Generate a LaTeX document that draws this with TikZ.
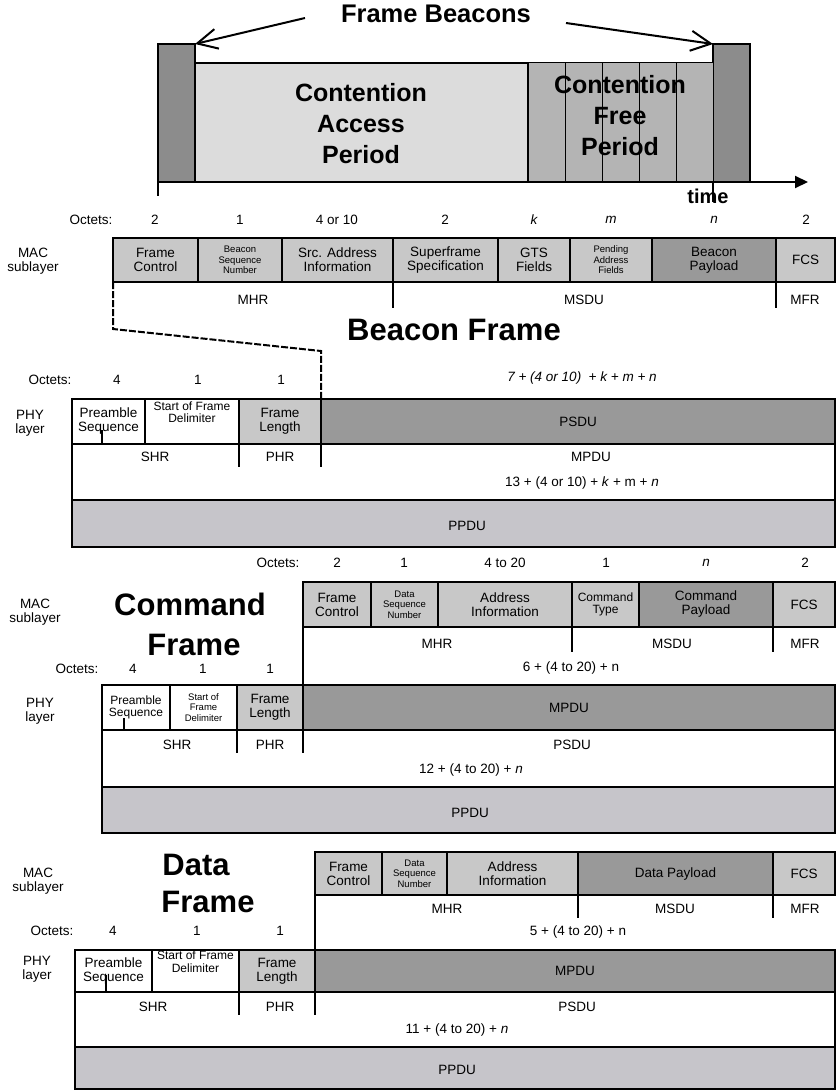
\documentclass[tikz,border=0pt]{standalone}
\usepackage{fontspec}
\setmainfont{Liberation Sans}
\usetikzlibrary{arrows.meta}
\definecolor{cellg}{HTML}{C8C8C8}
\definecolor{darkg}{HTML}{999999}
\definecolor{ppdug}{HTML}{C6C5CA}
\definecolor{bcng}{HTML}{8C8C8C}
\definecolor{capg}{HTML}{DCDCDC}
\definecolor{cfpg}{HTML}{B4B4B4}
\newcommand\fsm{\fontsize{13.5}{14}\selectfont}
\newcommand\fmd{\fontsize{12}{12.5}\selectfont}
\newcommand\ftn{\fontsize{9.5}{10.5}\selectfont}
\newcommand\fttl{\fontsize{31}{36}\selectfont\bfseries}
\newcommand\fbig{\fontsize{25}{31}\selectfont\bfseries}
\newcommand\bx[7]{\node[#1,anchor=north west,minimum width={(#5)-(#3)},minimum height={(#6)-(#4)}] (#2) at (#3,#4) {#7};}
\tikzset{
  box/.style={draw=black, line width=1.3pt, inner sep=0pt, outer sep=0pt, align=center, font=\fsm},
  mac/.style={box, fill=cellg},
  pay/.style={box, fill=darkg},
  wht/.style={box, fill=white},
  ppdu/.style={box, fill=ppdug},
  bcn/.style={box, fill=bcng, line width=1.5pt},
  capst/.style={box, fill=capg, line width=1.5pt},
  cfpst/.style={box, fill=cfpg, line width=1pt},
  lbl/.style={inner sep=0pt, font=\fsm, align=center},
  tlbl/.style={inner sep=0pt, font=\fttl, anchor=base},
  big/.style={inner sep=0pt, font=\fbig, align=center},
  thk/.style={line width=2.6pt},
  thn/.style={line width=1.3pt},
  fbarrow/.style={line width=2pt, -{Straight Barb[length=20pt,width=20pt,line width=2pt]}},
  axis/.style={line width=2pt, -{Triangle[length=13pt,width=12pt]}},
  zoomline/.style={line width=2pt, dash pattern=on 7pt off 2pt}
}
\begin{document}
\begin{tikzpicture}[x=1pt,y=-1pt]
\useasboundingbox (0,0) rectangle (837,1091);
% ---------------- superframe ----------------
\bx{bcn}{bL}{158}{44}{195}{182}{}
\bx{bcn}{bR}{713}{44}{750}{182}{}
\bx{capst}{cap}{195}{63}{528}{182}{}
\bx{cfpst}{s1}{528}{63}{565}{182}{}
\bx{cfpst}{s2}{565}{63}{602}{182}{}
\bx{cfpst}{s3}{602}{63}{639}{182}{}
\bx{cfpst}{s4}{639}{63}{676}{182}{}
\bx{cfpst}{s5}{676}{63}{713}{182}{}
\node[big] (capt) at (361,124) {Contention\\Access\\Period};
\node[big] (cfpt) at (620,116) {Contention\\Free\\Period};
\node[tlbl, font=\fontsize{25.5}{30}\selectfont\bfseries] (fb) at (436,23) {Frame Beacons};
\coordinate (fbL) at (305,18);
\coordinate (fbR) at (566,23);
\draw[fbarrow] (fbL) -- (bL.north east);
\draw[fbarrow] (fbR) -- (bR.north west);
\coordinate (t0) at (158,182);
\coordinate (t1) at (808,182);
\draw[axis] (t0) -- (t1);
\draw[line width=1.5pt] (bL.south west) -- ++(0,14);
\draw[line width=1.5pt] (bR.south west) -- ++(0,20);
\node[inner sep=0pt, font=\fontsize{20}{20}\selectfont\bfseries] (time) at (708,196) {time};
% ---------------- beacon frame: MAC ----------------
\node[lbl] (bmacl) at (33,261) {MAC\\sublayer};
\node[lbl] (bo0) at (91,220) {Octets:};
\node[lbl] (bo1) at (155,220) {2};
\node[lbl] (bo2) at (240,220) {1};
\node[lbl] (bo3) at (337,220) {4 or 10};
\node[lbl] (bo4) at (445,220) {2};
\node[lbl] (bo5) at (534,220) {\itshape k};
\node[lbl] (bo6) at (611,220) {\itshape m};
\node[lbl] (bo7) at (714,220) {\itshape n};
\node[lbl] (bo8) at (806,220) {2};
\bx{mac}{bfc}{113}{238}{198}{282}{Frame\\Control}
\bx{mac,font=\ftn}{bbsn}{198}{238}{282}{282}{Beacon\\Sequence\\Number}
\bx{mac}{bsrc}{282}{238}{393}{282}{Src. Address\\Information}
\bx{mac}{bsfs}{393}{238}{498}{282}{Superframe\\Specification}
\bx{mac}{bgts}{498}{238}{570}{282}{GTS\\Fields}
\bx{mac,font=\ftn}{bpend}{570}{238}{652}{282}{Pending\\Address\\Fields}
\bx{pay}{bpay}{652}{238}{776}{282}{Beacon\\Payload}
\bx{mac}{bfcs}{776}{238}{835}{282}{FCS}
\draw[thk] (bfc.north west) rectangle (bfcs.south east);
\draw[thk] (bbsn.north east) -- (bbsn.south east);
\draw[thn] (bsfs.south west) -- ++(0,26);
\draw[thn] (bfcs.south west) -- ++(0,26);
\node[lbl] (bmhr) at (253,300) {MHR};
\node[lbl] (bmsdu) at (584,300) {MSDU};
\node[lbl] (bmfr) at (805,300) {MFR};
\node[tlbl] (btitle) at (454,340) {Beacon Frame};
% ---------------- beacon frame: PHY ----------------
\node[lbl] (bphyl) at (30,423) {PHY\\layer};
\node[lbl] (bp0) at (50,380) {Octets:};
\node[lbl] (bp1) at (117,380) {4};
\node[lbl] (bp2) at (198,380) {1};
\node[lbl] (bp3) at (281,380) {1};
\node[lbl] (bpf) at (582,378) {\itshape 7 + (4 or 10)\ \ + k + m + n};
\bx{wht}{bphy}{72}{399}{835}{547}{}
\bx{wht}{bpre}{72}{399}{145}{444}{Preamble\\Sequence}
\bx{wht,font=\fmd}{bsfd}{145}{399}{239}{444}{Start of Frame\\Delimiter\\[6pt]}
\bx{mac}{bfl}{239}{399}{321}{444}{Frame\\Length}
\bx{pay}{bpsdu}{321}{399}{835}{444}{PSDU}
\bx{ppdu}{bppdu}{72}{500}{835}{547}{}
\draw[thn] (102,430) -- (102,444);
\draw[thk] (bpre.south west) -- (bpsdu.south east);
\draw[thk] (bsfd.north east) -- ++(0,68);
\draw[thk] (bfl.south east) -- ++(0,23);
\node[lbl] (bshr) at (155,457) {SHR};
\node[lbl] (bphr) at (280,457) {PHR};
\node[lbl] (bmpdu) at (591,457) {MPDU};
\node[lbl] (bpf2) at (582,483) {13 + (4 or 10) + \textit{k} + m + \textit{n}};
\node[lbl] (bppdut) at (467,526) {PPDU};
\draw[zoomline] (bfc.south west) -- (113,329) -- (321,351) -- (bpsdu.north west);
% ---------------- command frame ----------------
\node[lbl] (cmacl) at (35,612) {MAC\\sublayer};
\node[tlbl] (ct1) at (190,615) {Command};
\node[tlbl] (ct2) at (194,655) {Frame};
\node[lbl] (co0) at (278,563) {Octets:};
\node[lbl] (co1) at (337,563) {2};
\node[lbl] (co2) at (404,563) {1};
\node[lbl] (co3) at (505,563) {4 to 20};
\node[lbl] (co4) at (606,563) {1};
\node[lbl] (co5) at (706,563) {\itshape n};
\node[lbl] (co6) at (805,563) {2};
\bx{mac}{cfc}{303}{582}{371}{627}{Frame\\Control}
\bx{mac,font=\ftn}{cdsn}{371}{582}{438}{627}{Data\\Sequence\\Number}
\bx{mac}{cadr}{438}{582}{572}{627}{Address\\Information}
\bx{mac,font=\fmd}{ctyp}{572}{582}{639}{627}{Command\\Type}
\bx{pay}{cpay}{639}{582}{773}{627}{Command\\Payload}
\bx{mac}{cfcs}{773}{582}{835}{627}{FCS}
\draw[thk] (cfc.north west) rectangle (cfcs.south east);
\draw[thk] (cdsn.north east) -- (cdsn.south east);
\draw[thk] (cadr.north east) -- (cadr.south east) -- ++(0,25);
\draw[thn] (cfcs.south west) -- ++(0,25);
\node[lbl] (cmhr) at (437,644) {MHR};
\node[lbl] (cmsdu) at (672,644) {MSDU};
\node[lbl] (cmfr) at (805,644) {MFR};
\node[lbl] (cmf) at (571,668) {6 + (4 to 20) + n};
\node[lbl] (cphyl) at (40,711) {PHY\\layer};
\node[lbl] (cp0) at (77,669) {Octets:};
\node[lbl] (cp1) at (133,669) {4};
\node[lbl] (cp2) at (203,669) {1};
\node[lbl] (cp3) at (270,669) {1};
\bx{wht}{cphy}{102}{685}{835}{833}{}
\bx{wht,font=\fmd}{cpre}{102}{685}{170}{730}{Preamble\\Sequence}
\bx{wht,font=\ftn}{csfd}{170}{685}{237}{730}{Start of\\Frame\\Delimiter}
\bx{mac}{cfl}{237}{685}{303}{730}{Frame\\Length}
\bx{pay}{cmpdu}{303}{685}{835}{730}{MPDU}
\bx{ppdu}{cppdu}{102}{787}{835}{833}{}
\draw[thn] (124,718) -- (124,730);
\draw[thk] (cpre.south west) -- (cmpdu.south east);
\draw[thk] (cpre.north east) -- (cpre.south east);
\draw[thn] (cfl.south west) -- ++(0,23);
\draw[thk] (cfc.north west) -- (cfl.south east) -- ++(0,23);
\node[lbl] (cshr) at (177,745) {SHR};
\node[lbl] (cphr) at (270,745) {PHR};
\node[lbl] (cpsdu) at (572,745) {PSDU};
\node[lbl] (cpf) at (471,770) {12 + (4 to 20) + \textit{n}};
\node[lbl] (cppdut) at (470,813) {PPDU};
% ---------------- data frame ----------------
\node[lbl] (dmacl) at (38,881) {MAC\\sublayer};
\node[tlbl] (dt1) at (196,875) {Data};
\node[tlbl] (dt2) at (208,912) {Frame};
\bx{mac}{dfc}{315}{852}{382}{895}{Frame\\Control}
\bx{mac,font=\ftn}{ddsn}{382}{852}{447}{895}{Data\\Sequence\\Number}
\bx{mac}{dadr}{447}{852}{578}{895}{Address\\Information}
\bx{pay}{dpay}{578}{852}{773}{895}{Data Payload}
\bx{mac}{dfcs}{773}{852}{835}{895}{FCS}
\draw[thk] (dfc.north west) rectangle (dfcs.south east);
\draw[thk] (ddsn.north east) -- (ddsn.south east);
\draw[thn] (dadr.south east) -- ++(0,23);
\draw[thn] (dfcs.south west) -- ++(0,23);
\node[lbl] (dmhr) at (447,909) {MHR};
\node[lbl] (dmsdu) at (675,909) {MSDU};
\node[lbl] (dmfr) at (805,909) {MFR};
\node[lbl] (dmf) at (578,932) {5 + (4 to 20) + n};
\node[lbl] (dphyl) at (37,969) {PHY\\layer};
\node[lbl] (dp0) at (52,931) {Octets:};
\node[lbl] (dp1) at (113,931) {4};
\node[lbl] (dp2) at (197,931) {1};
\node[lbl] (dp3) at (280,931) {1};
\bx{wht}{dphy}{75}{950}{835}{1089}{}
\bx{wht}{dpre}{75}{950}{152}{992}{Preamble\\Sequence}
\bx{wht,font=\fmd}{dsfd}{152}{950}{239}{992}{Start of Frame\\Delimiter\\[6pt]}
\bx{mac}{dfl}{239}{950}{315}{992}{Frame\\Length}
\bx{pay}{dmpdu}{315}{950}{835}{992}{MPDU}
\bx{ppdu}{dppdu}{75}{1047}{835}{1089}{}
\draw[thn] (106,975) -- (106,992);
\draw[thk] (dpre.south west) -- (dmpdu.south east);
\draw[thk] (dpre.north east) -- (dpre.south east);
\draw[thn] (dfl.south west) -- ++(0,23);
\draw[thk] (dfc.north west) -- (dfl.south east) -- ++(0,23);
\node[lbl] (dshr) at (153,1007) {SHR};
\node[lbl] (dphr) at (280,1007) {PHR};
\node[lbl] (dpsdu) at (577,1007) {PSDU};
\node[lbl] (dpf) at (457,1030) {11 + (4 to 20) + \textit{n}};
\node[lbl] (dppdut) at (457,1070) {PPDU};
\end{tikzpicture}
\end{document}
